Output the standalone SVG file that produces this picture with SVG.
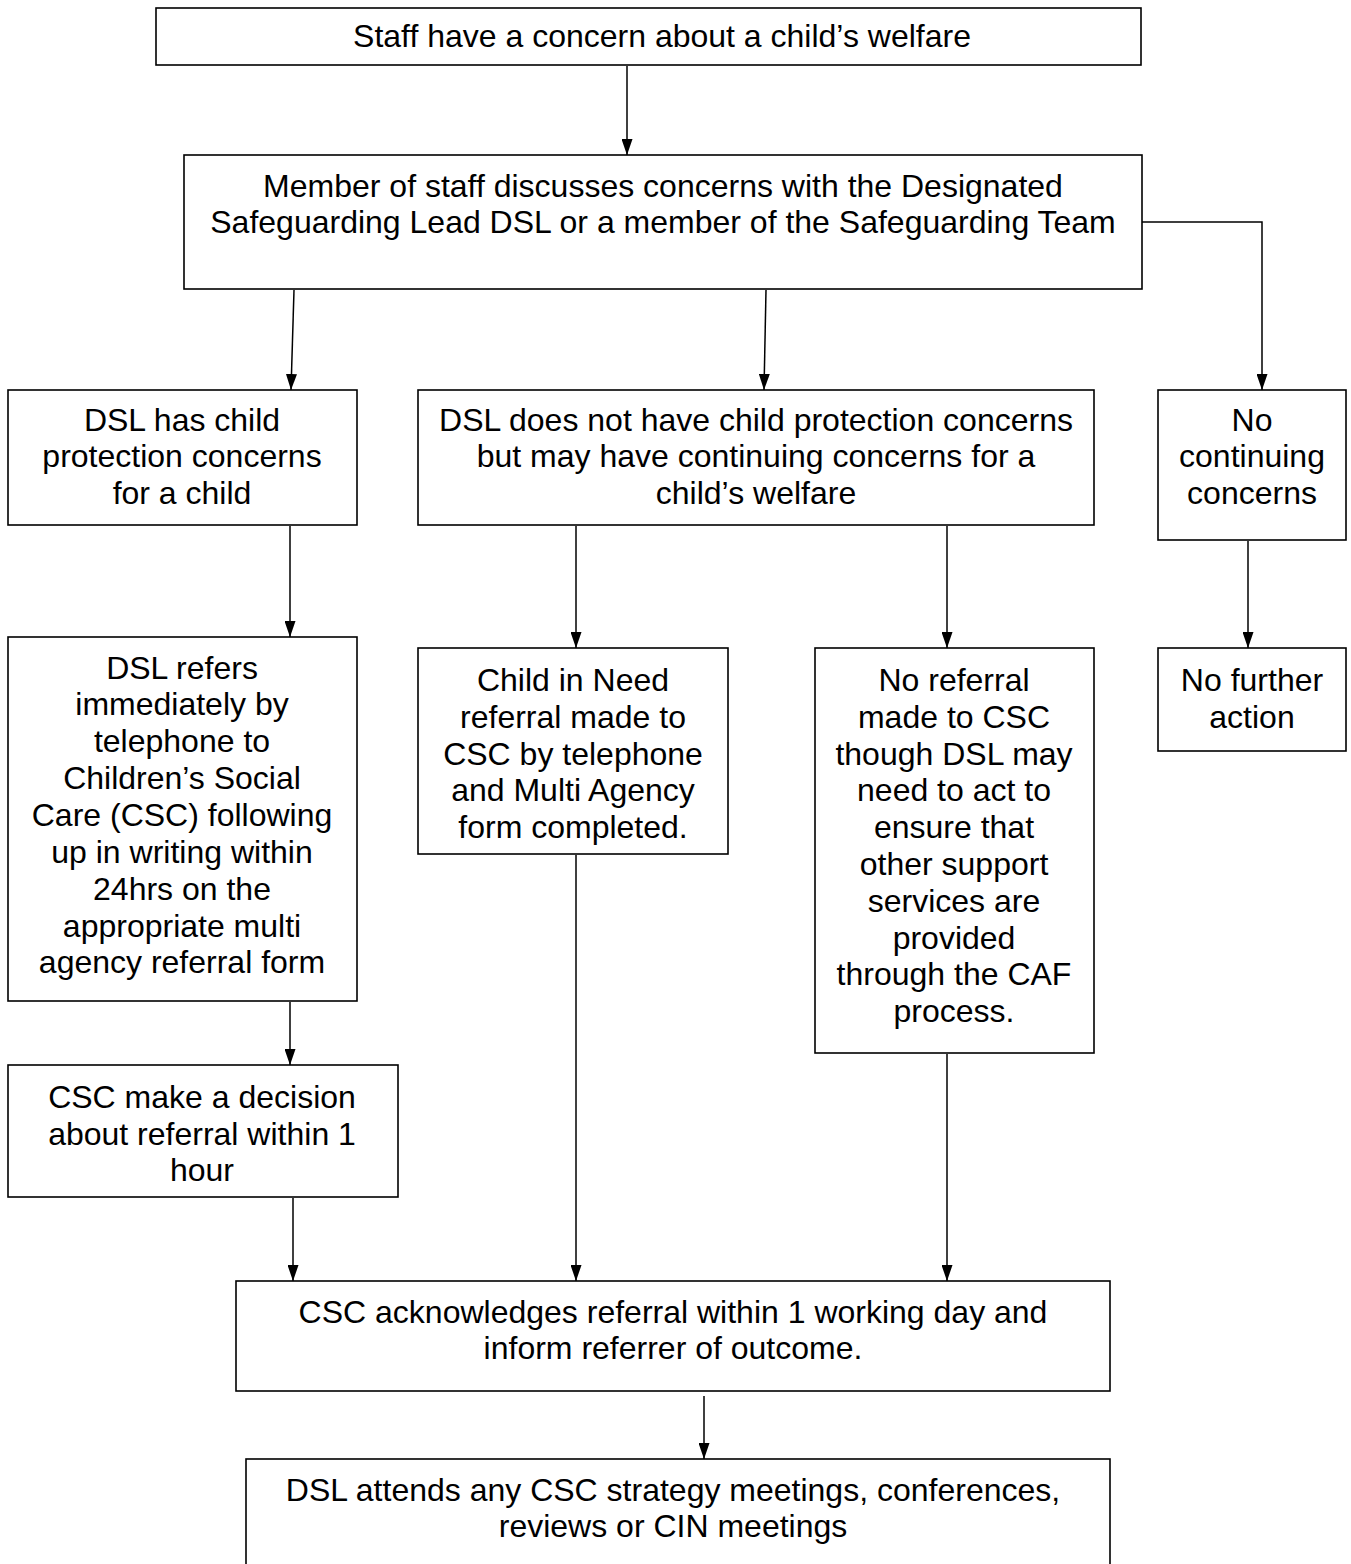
<svg xmlns="http://www.w3.org/2000/svg" width="1351" height="1564" viewBox="0 0 1351 1564">
<style>
.box{fill:#fff;stroke:#000;stroke-width:1.6}
.t{font-family:"Liberation Sans",Arial,sans-serif;font-size:32px;fill:#000;text-anchor:middle}
.c{stroke:#000;stroke-width:1.5;fill:none;marker-end:url(#ah)}
</style>
<defs>
<marker id="ah" viewBox="0 0 16 11" refX="16" refY="5.5" markerWidth="16" markerHeight="11" markerUnits="userSpaceOnUse" orient="auto">
<path d="M0,0 L16,5.5 L0,11 z" fill="#000"/>
</marker>
</defs>
<rect width="1351" height="1564" fill="#fff"/>
<g id="connectors">
<line class="c" x1="627" y1="66" x2="627" y2="155"/>
<polyline class="c" points="1142,222 1262,222 1262,390"/>
<line class="c" x1="294" y1="290" x2="291" y2="390"/>
<line class="c" x1="766" y1="290" x2="764" y2="390"/>
<line class="c" x1="290" y1="526" x2="290" y2="637"/>
<line class="c" x1="576" y1="526" x2="576" y2="648"/>
<line class="c" x1="947" y1="526" x2="947" y2="648"/>
<line class="c" x1="1248" y1="541" x2="1248" y2="648"/>
<line class="c" x1="290" y1="1002" x2="290" y2="1065"/>
<line class="c" x1="293" y1="1198" x2="293" y2="1281"/>
<line class="c" x1="576" y1="855" x2="576" y2="1281"/>
<line class="c" x1="947" y1="1054" x2="947" y2="1281"/>
<line class="c" x1="704" y1="1396" x2="704" y2="1459"/>
</g>
<g id="n1"><rect class="box" x="156" y="8" width="985" height="57"/>
<text class="t" x="662" y="47">Staff have a concern about a child’s welfare</text></g>
<g id="n2"><rect class="box" x="184" y="155" width="958" height="134"/>
<text class="t" x="663" y="197">Member of staff discusses concerns with the Designated</text>
<text class="t" x="663" y="233">Safeguarding Lead DSL or a member of the Safeguarding Team</text></g>
<g id="n3"><rect class="box" x="8" y="390" width="349" height="135"/>
<text class="t" x="182" y="431">DSL has child</text>
<text class="t" x="182" y="467">protection concerns</text>
<text class="t" x="182" y="504">for a child</text></g>
<g id="n4"><rect class="box" x="418" y="390" width="676" height="135"/>
<text class="t" x="756" y="431">DSL does not have child protection concerns</text>
<text class="t" x="756" y="467">but may have continuing concerns for a</text>
<text class="t" x="756" y="504">child’s welfare</text></g>
<g id="n5"><rect class="box" x="1158" y="390" width="188" height="150"/>
<text class="t" x="1252" y="431">No</text>
<text class="t" x="1252" y="467">continuing</text>
<text class="t" x="1252" y="504">concerns</text></g>
<g id="n6"><rect class="box" x="8" y="637" width="349" height="364"/>
<text class="t" x="182" y="679">DSL refers</text>
<text class="t" x="182" y="715">immediately by</text>
<text class="t" x="182" y="752">telephone to</text>
<text class="t" x="182" y="789">Children’s Social</text>
<text class="t" x="182" y="826">Care (CSC) following</text>
<text class="t" x="182" y="863">up in writing within</text>
<text class="t" x="182" y="900">24hrs on the</text>
<text class="t" x="182" y="937">appropriate multi</text>
<text class="t" x="182" y="973">agency referral form</text></g>
<g id="n7"><rect class="box" x="418" y="648" width="310" height="206"/>
<text class="t" x="573" y="691">Child in Need</text>
<text class="t" x="573" y="728">referral made to</text>
<text class="t" x="573" y="765">CSC by telephone</text>
<text class="t" x="573" y="801">and Multi Agency</text>
<text class="t" x="573" y="838">form completed.</text></g>
<g id="n8"><rect class="box" x="815" y="648" width="279" height="405"/>
<text class="t" x="954" y="691">No referral</text>
<text class="t" x="954" y="728">made to CSC</text>
<text class="t" x="954" y="765">though DSL may</text>
<text class="t" x="954" y="801">need to act to</text>
<text class="t" x="954" y="838">ensure that</text>
<text class="t" x="954" y="875">other support</text>
<text class="t" x="954" y="912">services are</text>
<text class="t" x="954" y="949">provided</text>
<text class="t" x="954" y="985">through the CAF</text>
<text class="t" x="954" y="1022">process.</text></g>
<g id="n9"><rect class="box" x="1158" y="648" width="188" height="103"/>
<text class="t" x="1252" y="691">No further</text>
<text class="t" x="1252" y="728">action</text></g>
<g id="n10"><rect class="box" x="8" y="1065" width="390" height="132"/>
<text class="t" x="202" y="1108">CSC make a decision</text>
<text class="t" x="202" y="1145">about referral within 1</text>
<text class="t" x="202" y="1181">hour</text></g>
<g id="n11"><rect class="box" x="236" y="1281" width="874" height="110"/>
<text class="t" x="673" y="1323">CSC acknowledges referral within 1 working day and</text>
<text class="t" x="673" y="1359">inform referrer of outcome.</text></g>
<g id="n12"><rect class="box" x="246" y="1459" width="864" height="130"/>
<text class="t" x="673" y="1501">DSL attends any CSC strategy meetings, conferences,</text>
<text class="t" x="673" y="1537">reviews or CIN meetings</text></g>
</svg>
